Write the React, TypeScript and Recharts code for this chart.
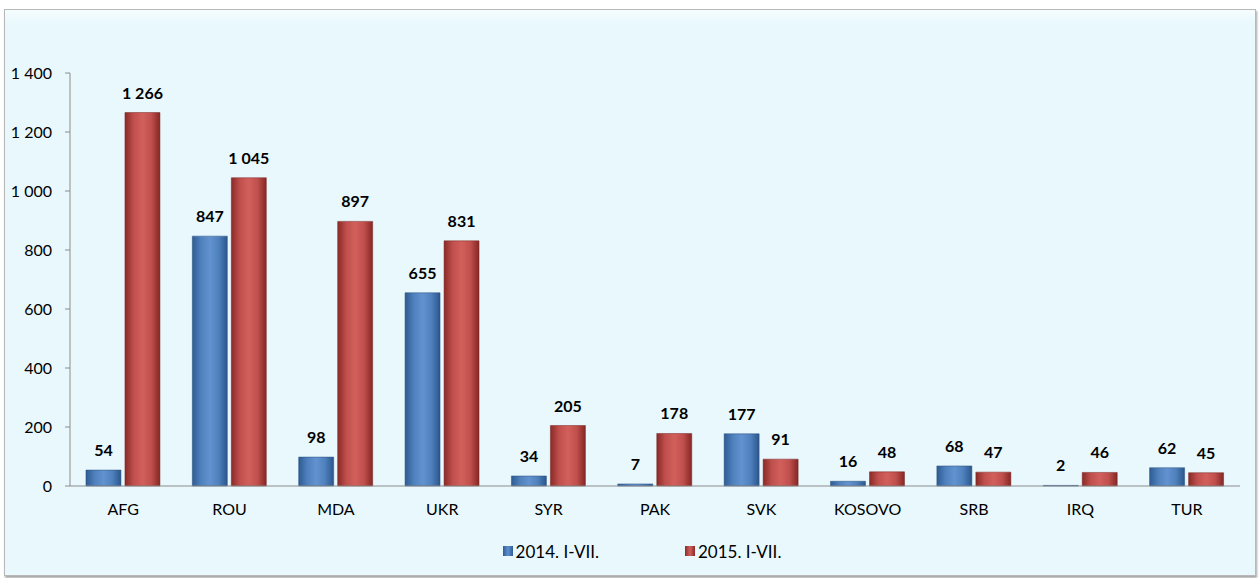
import React from "react";
import { BarChart, Bar, XAxis, YAxis, LabelList, Legend } from "recharts";

const categories = ["AFG", "ROU", "MDA", "UKR", "SYR", "PAK", "SVK", "KOSOVO", "SRB", "IRQ", "TUR"];
const series2014 = [54, 847, 98, 655, 34, 7, 177, 16, 68, 2, 62];
const series2015 = [1266, 1045, 897, 831, 205, 178, 91, 48, 47, 46, 45];
const yTicks = [0, 200, 400, 600, 800, 1000, 1200, 1400];
const seriesNames = ["2014. I-VII.", "2015. I-VII."];

const data = categories.map((c, i) => ({ name: c, a: series2014[i], b: series2015[i] }));

const fmt = (v: number) => String(v).replace(/\B(?=(\d{3})+(?!\d))/g, "\u00A0");

const FONT = "Lato, 'Open Sans', sans-serif";

const LegendContent = () => (
  <div style={{ display: "flex", justifyContent: "center", alignItems: "center", height: 30, fontFamily: FONT, fontSize: 17, color: "#000", paddingLeft: 44 }}>
    <div style={{ display: "flex", alignItems: "center", marginRight: 86 }}>
      <span style={{ width: 10, height: 10, background: "linear-gradient(90deg,#2f5d96,#5d8fd0,#2f5d96)", marginRight: 3, display: "inline-block" }} />
      {seriesNames[0]}
    </div>
    <div style={{ display: "flex", alignItems: "center" }}>
      <span style={{ width: 10, height: 10, background: "linear-gradient(90deg,#8c2a27,#d0605c,#8c2a27)", marginRight: 3, display: "inline-block" }} />
      {seriesNames[1]}
    </div>
  </div>
);

const labelStyle = { fontFamily: FONT, fontSize: 16, fontWeight: 700, fill: "#000" };

export default function App() {
  return (
    <div style={{ position: "absolute", left: 0, top: 0, width: 1260, height: 578, background: "#fff" }}>
      <div
        style={{
          position: "absolute",
          left: 4,
          top: 9,
          width: 1250,
          height: 565,
          background: "linear-gradient(180deg,#f6fdff 0px,#e8f8fd 14px,#e8f8fd 100%)",
          border: "1px solid #b8b8b8",
          boxShadow: "1px 2px 2px rgba(0,0,0,0.35)",
        }}
      />
      <div style={{ position: "absolute", left: 0, top: 0 }}>
        <BarChart
          width={1260}
          height={578}
          data={data}
          margin={{ top: 73, right: 20, bottom: 12, left: 0 }}
          barCategoryGap="15%"
          barGap={4}
        >
          <defs>
            <linearGradient id="gBlue" x1="0" y1="0" x2="1" y2="0">
              <stop offset="0%" stopColor="#2e5b93" />
              <stop offset="25%" stopColor="#4f81bd" />
              <stop offset="50%" stopColor="#6293d0" />
              <stop offset="75%" stopColor="#4f81bd" />
              <stop offset="100%" stopColor="#2b568c" />
            </linearGradient>
            <linearGradient id="gRed" x1="0" y1="0" x2="1" y2="0">
              <stop offset="0%" stopColor="#8a2a27" />
              <stop offset="25%" stopColor="#c0504d" />
              <stop offset="50%" stopColor="#d25f5b" />
              <stop offset="75%" stopColor="#c0504d" />
              <stop offset="100%" stopColor="#852724" />
            </linearGradient>
          </defs>
          <XAxis
            dataKey="name"
            tickLine={false}
            axisLine={{ stroke: "#8c8c8c" }}
            tick={{ fontFamily: FONT, fontSize: 16, fill: "#000" }}
            tickMargin={12}
            height={50}
            interval={0}
          />
          <YAxis
            width={70}
            domain={[0, 1400]}
            ticks={yTicks}
            tickFormatter={fmt}
            axisLine={{ stroke: "#8c8c8c" }}
            tickLine={{ stroke: "#8c8c8c" }}
            tickSize={5}
            tickMargin={13}
            tick={{ fontFamily: FONT, fontSize: 16, fill: "#000" }}
          />
          <Legend verticalAlign="bottom" height={30} content={<LegendContent />} />
          <Bar dataKey="a" name={seriesNames[0]} fill="url(#gBlue)" stroke="#2a4f7e" strokeWidth={0.5} isAnimationActive={false}>
            <LabelList dataKey="a" position="top" offset={14} formatter={fmt} style={labelStyle} />
          </Bar>
          <Bar dataKey="b" name={seriesNames[1]} fill="url(#gRed)" stroke="#7a2422" strokeWidth={0.5} isAnimationActive={false}>
            <LabelList dataKey="b" position="top" offset={14} formatter={fmt} style={labelStyle} />
          </Bar>
        </BarChart>
      </div>
    </div>
  );
}
